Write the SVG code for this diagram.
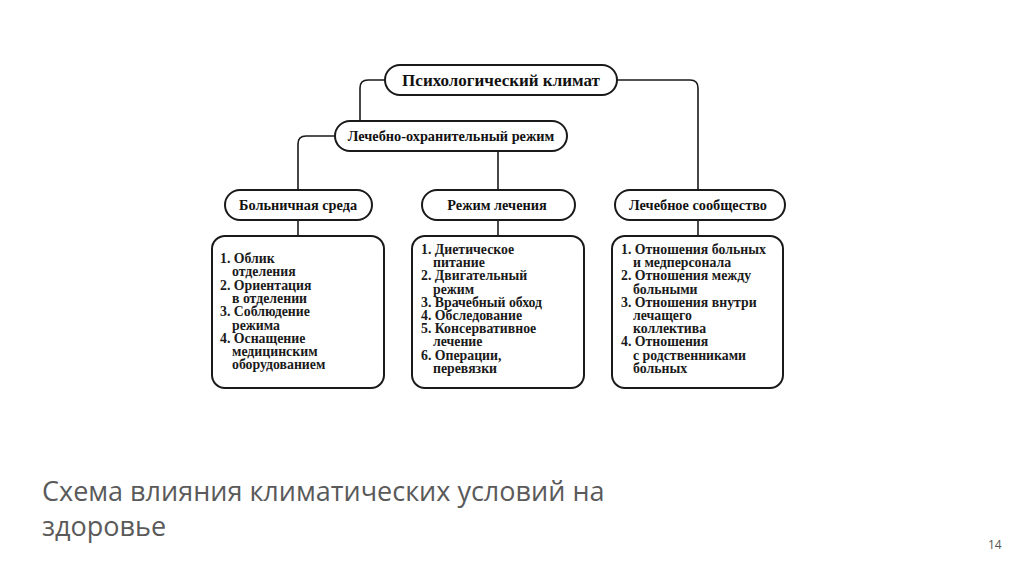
<svg xmlns="http://www.w3.org/2000/svg" width="1024" height="574" viewBox="0 0 1024 574">
<style>
.pill{fill:#fff;stroke:#1a1a1a;stroke-width:2}
.box{fill:#fff;stroke:#1a1a1a;stroke-width:2}
.conn{fill:none;stroke:#1a1a1a;stroke-width:1.6}
.h{font-family:"Liberation Serif",serif;font-weight:bold;fill:#111;text-anchor:middle}
.t{font-family:"Liberation Serif",serif;font-weight:bold;fill:#1a1a1a;font-size:13.8px}
.cap{font-family:"Open Sans","Liberation Sans",sans-serif;fill:#5a5a5a;font-size:27px}
</style>
<rect width="1024" height="574" fill="#fff"/>
<g id="connectors">
<path class="conn" d="M385 80 H368 Q360 80 360 88 V121"/>
<path class="conn" d="M617 80 H690 Q698 80 698 88 V190"/>
<path class="conn" d="M335 136 H306 Q298 136 298 144 V190"/>
<path class="conn" d="M498 151 V190"/>
<path class="conn" d="M298 220 V236"/>
<path class="conn" d="M498 220 V236"/>
<path class="conn" d="M698 220 V236"/>
</g>
<g id="n-psych">
<rect class="pill" x="385" y="65" width="232" height="30" rx="15"/>
<text class="h" x="501" y="86" font-size="17">Психологический климат</text>
</g>
<g id="n-regime">
<rect class="pill" x="335" y="121" width="232" height="30" rx="15"/>
<text class="h" x="451" y="140.5" font-size="14.3">Лечебно-охранительный режим</text>
</g>
<g id="n-env">
<rect class="pill" x="225" y="190" width="147" height="30" rx="15"/>
<text class="h" x="298" y="209.5" font-size="14.3">Больничная среда</text>
</g>
<g id="n-treat">
<rect class="pill" x="422" y="190" width="153" height="30" rx="15"/>
<text class="h" x="497" y="209.5" font-size="14.3">Режим лечения</text>
</g>
<g id="n-comm">
<rect class="pill" x="615" y="190" width="170" height="30" rx="15"/>
<text class="h" x="698" y="209.5" font-size="14.3">Лечебное сообщество</text>
</g>
<g id="n-env-list">
<rect class="box" x="212" y="236" width="172" height="152" rx="13"/>
<text class="t">
<tspan x="220" y="263">1. Облик</tspan>
<tspan x="232" y="276.3">отделения</tspan>
<tspan x="220" y="289.6">2. Ориентация</tspan>
<tspan x="232" y="302.9">в отделении</tspan>
<tspan x="220" y="316.2">3. Соблюдение</tspan>
<tspan x="232" y="329.5">режима</tspan>
<tspan x="220" y="342.8">4. Оснащение</tspan>
<tspan x="232" y="356.1">медицинским</tspan>
<tspan x="232" y="369.4">оборудованием</tspan>
</text>
</g>
<g id="n-treat-list">
<rect class="box" x="412" y="236" width="172" height="152" rx="13"/>
<text class="t">
<tspan x="421" y="254">1. Диетическое</tspan>
<tspan x="433" y="267.2">питание</tspan>
<tspan x="421" y="280.4">2. Двигательный</tspan>
<tspan x="433" y="293.6">режим</tspan>
<tspan x="421" y="306.8">3. Врачебный обход</tspan>
<tspan x="421" y="320">4. Обследование</tspan>
<tspan x="421" y="333.2">5. Консервативное</tspan>
<tspan x="433" y="346.4">лечение</tspan>
<tspan x="421" y="359.6">6. Операции,</tspan>
<tspan x="433" y="372.8">перевязки</tspan>
</text>
</g>
<g id="n-comm-list">
<rect class="box" x="612" y="236" width="171" height="152" rx="13"/>
<text class="t">
<tspan x="621" y="254">1. Отношения больных</tspan>
<tspan x="633" y="267.2">и медперсонала</tspan>
<tspan x="621" y="280.4">2. Отношения между</tspan>
<tspan x="633" y="293.6">больными</tspan>
<tspan x="621" y="306.8">3. Отношения внутри</tspan>
<tspan x="633" y="320">лечащего</tspan>
<tspan x="633" y="333.2">коллектива</tspan>
<tspan x="621" y="346.4">4. Отношения</tspan>
<tspan x="633" y="359.6">с родственниками</tspan>
<tspan x="633" y="372.8">больных</tspan>
</text>
</g>
<g id="caption">
<text class="cap" x="42" y="501">Схема влияния климатических условий на</text>
<text class="cap" x="42" y="536">здоровье</text>
</g>
<text x="988" y="549" font-family="'Open Sans','Liberation Sans',sans-serif" font-size="12" fill="#555">14</text>
</svg>
